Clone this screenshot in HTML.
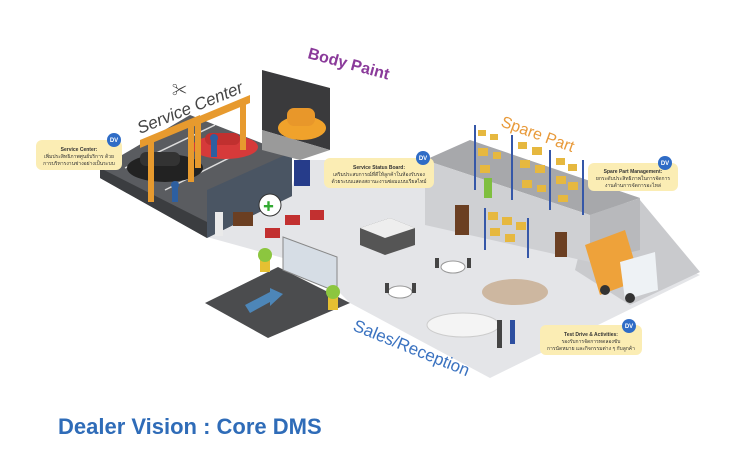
<!DOCTYPE html>
<html><head><meta charset="utf-8"><style>
html,body{margin:0;padding:0;background:#fff;}
body{width:750px;height:450px;overflow:hidden;font-family:"Liberation Sans","Noto Sans CJK SC",sans-serif;}
</style></head><body>
<svg width="750" height="450" viewBox="0 0 750 450" xmlns="http://www.w3.org/2000/svg" font-family="Liberation Sans, Noto Sans CJK SC, sans-serif">
<!-- light main floor -->
<polygon points="207,237 290,193 300,160 430,160 700,275 490,378 350,303 337,290 283,258" fill="#e4e5e8"/>
<!-- truck dock -->
<polygon points="590,210 640,200 700,272 630,305 575,270" fill="#c9cacd"/>
<!-- service dark floor -->
<polygon points="100,168 190,115 292,155 292,196 207,238 100,178" fill="#5a5c60"/>
<polygon points="100,168 207,222 207,238 100,178" fill="#3b3d40"/>
<!-- service front wall -->
<polygon points="207,190 292,152 292,196 207,238" fill="#4a5563"/>
<!-- lane lines -->
<line x1="125" y1="168" x2="215" y2="125" stroke="#ddd" stroke-width="1.5"/>
<line x1="165" y1="190" x2="255" y2="145" stroke="#ddd" stroke-width="1.5"/>
<!-- cars service -->
<ellipse cx="165" cy="168" rx="38" ry="14" fill="#222"/>
<rect x="140" y="152" width="40" height="14" rx="6" fill="#333"/>
<ellipse cx="225" cy="147" rx="33" ry="12" fill="#d63a3a"/>
<rect x="205" y="133" width="35" height="12" rx="6" fill="#c0302f"/>
<!-- lifts -->
<g fill="#e79a2e">
<rect x="148" y="140" width="6" height="62"/><rect x="188" y="122" width="6" height="60"/>
<polygon points="140,140 200,115 200,123 140,148"/>
<rect x="195" y="123" width="6" height="45"/><rect x="240" y="100" width="6" height="50"/>
<polygon points="190,120 250,95 250,103 190,128"/>
</g>
<circle cx="175" cy="185" r="4" fill="#2d5fa0"/><rect x="172" y="188" width="6" height="14" fill="#2d5fa0"/>
<circle cx="214" cy="138" r="4" fill="#2d5fa0"/><rect x="211" y="141" width="6" height="16" fill="#2d5fa0"/>
<!-- body paint booth -->
<polygon points="262,70 330,88 330,150 262,130" fill="#3a3a3c"/>
<polygon points="262,130 330,150 300,160 262,150" fill="#9a9a9a"/>
<ellipse cx="302" cy="128" rx="24" ry="12" fill="#f0a22b"/>
<rect x="287" y="108" width="28" height="18" rx="7" fill="#e8972a"/>
<!-- labels -->
<text x="140" y="134" font-size="17" fill="#444" transform="rotate(-22 140 134)" font-style="italic">Service Center</text>
<text x="172" y="95" font-size="15" fill="#444">✂</text>
<text x="307" y="58" font-size="16" fill="#8a3a9a" transform="rotate(15 307 58)" font-weight="bold">Body Paint</text>
<text x="500" y="126" font-size="16" fill="#e89a3a" transform="rotate(20 500 126)">Spare Part</text>
<text x="352" y="330" font-size="17" fill="#3a72c0" transform="rotate(22 352 330)">Sales/Reception</text>
<!-- warehouse -->
<polygon points="425,160 470,140 640,198 590,215" fill="#a7a8ab"/>
<polygon points="425,160 590,215 590,262 425,225" fill="#cfd0d3"/>
<polygon points="590,215 640,198 640,250 590,262" fill="#b8b9bc"/>
<rect x="455" y="205" width="14" height="30" fill="#6b3f22"/>
<rect x="555" y="232" width="12" height="25" fill="#6b3f22"/>
<g fill="#e6b83f">
<rect x="478" y="130" width="8" height="6"/><rect x="490" y="134" width="8" height="6"/><rect x="478" y="148" width="10" height="8"/><rect x="493" y="152" width="8" height="7"/><rect x="480" y="165" width="10" height="8"/>
<rect x="518" y="142" width="9" height="7"/><rect x="532" y="147" width="10" height="8"/><rect x="520" y="160" width="10" height="8"/><rect x="535" y="165" width="10" height="8"/><rect x="522" y="180" width="10" height="8"/><rect x="537" y="185" width="9" height="7"/>
<rect x="556" y="158" width="9" height="7"/><rect x="568" y="164" width="9" height="7"/><rect x="556" y="176" width="10" height="8"/><rect x="568" y="182" width="10" height="8"/><rect x="558" y="195" width="10" height="7"/>
<rect x="488" y="212" width="10" height="8"/><rect x="502" y="217" width="10" height="8"/><rect x="490" y="228" width="10" height="8"/><rect x="505" y="234" width="10" height="8"/><rect x="516" y="222" width="10" height="8"/>
</g>
<g stroke="#3557a8" stroke-width="2"><line x1="475" y1="125" x2="475" y2="190"/><line x1="512" y1="135" x2="512" y2="200"/><line x1="550" y1="150" x2="550" y2="210"/><line x1="583" y1="160" x2="583" y2="215"/><line x1="485" y1="208" x2="485" y2="250"/><line x1="528" y1="218" x2="528" y2="258"/></g>
<rect x="484" y="178" width="8" height="20" fill="#7fbf3f"/>
<!-- truck -->
<polygon points="585,245 625,230 640,280 600,295" fill="#eea23a"/>
<polygon points="620,262 655,252 658,290 625,300" fill="#eef2f5"/>
<circle cx="630" cy="298" r="5" fill="#333"/><circle cx="605" cy="290" r="5" fill="#333"/>
<!-- reception area -->
<rect x="233" y="212" width="20" height="14" fill="#6b3f22"/>
<rect x="215" y="212" width="8" height="24" fill="#eaeaea"/>
<rect x="265" y="228" width="15" height="10" fill="#c23030"/>
<rect x="285" y="215" width="15" height="10" fill="#c23030"/>
<rect x="310" y="210" width="14" height="10" fill="#c23030"/>
<rect x="294" y="160" width="16" height="26" fill="#263c8a"/>
<polygon points="360,228 390,218 415,228 415,245 385,255 360,245" fill="#555"/>
<polygon points="360,228 390,218 415,228 385,238" fill="#eee"/>
<circle cx="270" cy="205" r="11" fill="#fff" stroke="#333"/>
<text x="263" y="210" font-size="11" fill="#3a3">✚</text>
<!-- entry -->
<polygon points="205,303 278,267 350,303 268,338" fill="#4b4c4e"/>
<polygon points="245,305 270,292 270,288 283,294 270,306 270,302 250,313" fill="#4d86b8"/>
<polygon points="283,237 337,257 337,292 283,270" fill="#d6dde5" stroke="#888"/>
<rect x="260" y="258" width="10" height="14" fill="#e6c032"/><circle cx="265" cy="255" r="7" fill="#8cc63f"/>
<rect x="328" y="296" width="10" height="14" fill="#e6c032"/><circle cx="333" cy="292" r="7" fill="#8cc63f"/>
<!-- tables -->
<ellipse cx="453" cy="267" rx="12" ry="6" fill="#fff" stroke="#999"/>
<ellipse cx="400" cy="292" rx="12" ry="6" fill="#fff" stroke="#999"/>
<g fill="#444"><rect x="435" y="258" width="4" height="10"/><rect x="467" y="258" width="4" height="10"/><rect x="385" y="283" width="4" height="10"/><rect x="412" y="283" width="4" height="10"/></g>
<!-- cars sales -->
<ellipse cx="515" cy="292" rx="33" ry="13" fill="#cdb7a0"/>
<ellipse cx="463" cy="325" rx="36" ry="12" fill="#f4f4f4" stroke="#ccc"/>
<rect x="497" y="320" width="5" height="28" fill="#444"/><rect x="510" y="320" width="5" height="24" fill="#2d4fa0"/>
<!-- callouts -->
<g font-size="5" text-anchor="middle" fill="#333">
<rect x="36" y="140" width="86" height="30" rx="6" fill="#fbedb4"/>
<text x="79" y="151" font-weight="bold">Service Center:</text>
<text x="79" y="158">เพิ่มประสิทธิภาพศูนย์บริการ ด้วย</text>
<text x="79" y="165">การบริหารงานช่างอย่างเป็นระบบ</text>
<rect x="324" y="158" width="110" height="30" rx="6" fill="#fbedb4"/>
<text x="379" y="169" font-weight="bold">Service Status Board:</text>
<text x="379" y="176">เสริมประสบการณ์ที่ดีให้ลูกค้าในห้องรับรอง</text>
<text x="379" y="183">ด้วยระบบแสดงสถานะงานซ่อมแบบเรียลไทม์</text>
<rect x="588" y="163" width="90" height="28" rx="6" fill="#fbedb4"/>
<text x="633" y="173" font-weight="bold">Spare Part Management:</text>
<text x="633" y="180">ยกระดับประสิทธิภาพในการจัดการ</text>
<text x="633" y="187">งานด้านการจัดการอะไหล่</text>
<rect x="540" y="325" width="102" height="30" rx="6" fill="#fbedb4"/>
<text x="591" y="336" font-weight="bold">Test Drive &amp; Activities:</text>
<text x="591" y="343">รองรับการจัดการทดลองขับ</text>
<text x="591" y="350">การนัดหมาย และกิจกรรมต่าง ๆ กับลูกค้า</text>
</g>
<g fill="#2f6cc6"><circle cx="114" cy="140" r="7"/><circle cx="423" cy="158" r="7"/><circle cx="665" cy="163" r="7"/><circle cx="629" cy="326" r="7"/></g>
<g fill="#fff" font-size="6" font-weight="bold" text-anchor="middle"><text x="114" y="142">DV</text><text x="423" y="160">DV</text><text x="665" y="165">DV</text><text x="629" y="328">DV</text></g>
<text x="58" y="434" font-size="22" font-weight="bold" fill="#2f6cb8">Dealer Vision : Core DMS</text>
</svg>
</body></html>
